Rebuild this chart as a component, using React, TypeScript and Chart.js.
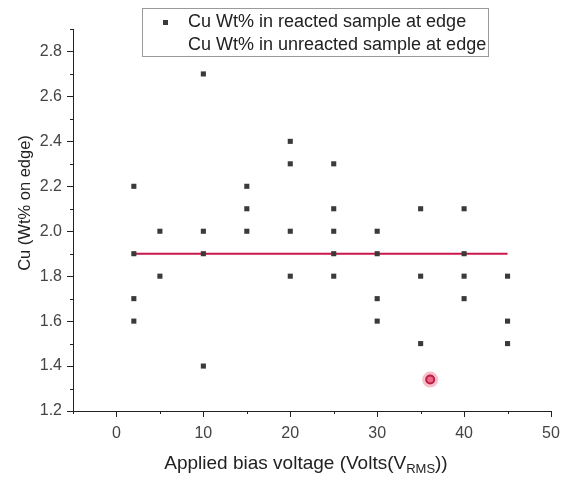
import { useEffect, useRef } from 'react';
import { Chart, registerables } from 'chart.js';

Chart.register(...registerables);

// ---- data ----
const reactedVoltage = [2, 2, 2, 2, 5, 5, 10, 10, 10, 10, 15, 15, 15, 20, 20, 20, 20, 25, 25, 25, 25, 25, 30, 30, 30, 30, 35, 35, 35, 40, 40, 40, 40, 45, 45, 45];
const reactedCu = [2.2, 1.9, 1.7, 1.6, 2.0, 1.8, 2.7, 2.0, 1.9, 1.4, 2.2, 2.1, 2.0, 2.4, 2.3, 2.0, 1.8, 2.3, 2.1, 2.0, 1.9, 1.8, 2.0, 1.9, 1.7, 1.6, 2.1, 1.8, 1.5, 2.1, 1.9, 1.8, 1.7, 1.8, 1.6, 1.5];
const unreactedVoltage = [2, 45];
const unreactedCu = [1.9, 1.9];
const spotVoltage = [36.1];
const spotCu = [1.34];
const seriesLabels = ['Cu Wt% in reacted sample at edge', 'Cu Wt% in unreacted sample at edge'];
const xTitleParts = ['Applied bias voltage (Volts(V', 'RMS', '))'];
const yTitle = 'Cu (Wt% on edge)';
const xMin = -5;
const xMax = 50;
const yMin = 1.2;
const yMax = 2.9;
const xMajorTicks = [0, 10, 20, 30, 40, 50];
const xMinorTicks = [-5, 5, 15, 25, 35, 45];
const yMinorTicks = [1.3, 1.5, 1.7, 1.9, 2.1, 2.3, 2.5, 2.7, 2.9];

const FONT = '"Liberation Sans", Arial, Helvetica, sans-serif';
const AXIS = '#222222';
const MARKER = '#3a3a3a';
const LINE = '#c8174a';

const toPoints = (xs: number[], ys: number[]) => xs.map((x, i) => ({ x, y: ys[i] }));

const decorPlugin = {
  id: 'decor',
  afterDraw(chart: any) {
    const ctx = chart.ctx;
    const xs = chart.scales.x;
    const ys = chart.scales.y;
    const area = chart.chartArea;
    ctx.save();
    // minor ticks
    ctx.strokeStyle = AXIS;
    ctx.lineWidth = 1;
    ctx.beginPath();
    yMinorTicks.forEach((v) => {
      const py = Math.round(ys.getPixelForValue(v)) + 0.5;
      ctx.moveTo(area.left - 3, py);
      ctx.lineTo(area.left, py);
    });
    xMinorTicks.forEach((v) => {
      const px = Math.round(xs.getPixelForValue(v)) + 0.5;
      ctx.moveTo(px, area.bottom);
      ctx.lineTo(px, area.bottom + 3);
    });
    ctx.stroke();

    // y axis title
    ctx.save();
    ctx.translate(25, 203);
    ctx.rotate(-Math.PI / 2);
    ctx.font = `16.5px ${FONT}`;
    ctx.fillStyle = AXIS;
    ctx.textAlign = 'center';
    ctx.textBaseline = 'middle';
    ctx.fillText(yTitle, 0, 0);
    ctx.restore();

    // x axis title with subscript
    const mainFont = `19px ${FONT}`;
    const subFont = `13px ${FONT}`;
    ctx.fillStyle = AXIS;
    ctx.textBaseline = 'alphabetic';
    ctx.textAlign = 'left';
    ctx.font = mainFont;
    const w1 = ctx.measureText(xTitleParts[0]).width;
    const w3 = ctx.measureText(xTitleParts[2]).width;
    ctx.font = subFont;
    const w2 = ctx.measureText(xTitleParts[1]).width;
    const total = w1 + w2 + w3;
    let sx = 306 - total / 2;
    const base = 469;
    ctx.font = mainFont;
    ctx.fillText(xTitleParts[0], sx, base);
    sx += w1;
    ctx.font = subFont;
    ctx.fillText(xTitleParts[1], sx, base + 4);
    sx += w2;
    ctx.font = mainFont;
    ctx.fillText(xTitleParts[2], sx, base);

    // legend box
    const lx = 142.5, ly = 8.5, lw = 346, lh = 48;
    ctx.fillStyle = '#ffffff';
    ctx.fillRect(lx, ly, lw, lh);
    ctx.strokeStyle = '#9a9a9a';
    ctx.strokeRect(lx, ly, lw, lh);
    ctx.fillStyle = MARKER;
    ctx.fillRect(163, 20, 5, 5);
    ctx.font = `18px ${FONT}`;
    ctx.fillStyle = AXIS;
    ctx.textBaseline = 'middle';
    ctx.fillText(chart.data.datasets[0].label, 188, 22);
    ctx.fillText(chart.data.datasets[1].label, 188, 45);
    ctx.restore();
  },
};

export default function App() {
  const canvasRef = useRef<HTMLCanvasElement | null>(null);

  useEffect(() => {
    const canvas = canvasRef.current;
    if (!canvas) return;
    const chart = new Chart(canvas, {
      type: 'scatter',
      data: {
        datasets: [
          {
            label: seriesLabels[0],
            data: toPoints(reactedVoltage, reactedCu),
            pointStyle: 'rect',
            pointRadius: 3.6,
            pointBackgroundColor: MARKER,
            pointBorderWidth: 0,
            showLine: false,
          },
          {
            label: seriesLabels[1],
            data: toPoints(unreactedVoltage, unreactedCu),
            showLine: true,
            borderColor: LINE,
            borderWidth: 2,
            pointRadius: 0,
          },
          {
            label: 'spot-glow',
            data: toPoints(spotVoltage, spotCu),
            pointStyle: 'circle',
            pointRadius: 8,
            pointBackgroundColor: 'rgba(238, 70, 110, 0.35)',
            pointBorderWidth: 0,
          },
          {
            label: 'spot',
            data: toPoints(spotVoltage, spotCu),
            pointStyle: 'circle',
            pointRadius: 4,
            pointBackgroundColor: 'rgba(240, 110, 140, 0.9)',
            pointBorderColor: '#9a0f2e',
            pointBorderWidth: 2,
          },
        ],
      },
      options: {
        animation: false,
        responsive: false,
        devicePixelRatio: 1,
        layout: { padding: { top: 29, right: 10, left: 0, bottom: 0 } },
        plugins: { legend: { display: false }, tooltip: { enabled: false } },
        scales: {
          x: {
            type: 'linear',
            min: xMin,
            max: xMax,
            ticks: {
              stepSize: 5,
              autoSkip: false,
              maxRotation: 0,
              padding: 7,
              color: '#444444',
              font: { family: FONT, size: 16 },
              callback: (v: any) => (xMajorTicks.includes(Number(v)) ? String(v) : ''),
            },
            grid: {
              drawOnChartArea: false,
              tickLength: 6,
              color: (c: any) => (c.tick && xMajorTicks.includes(Number(c.tick.value)) ? AXIS : 'rgba(0,0,0,0)'),
            },
            border: { color: AXIS, width: 1 },
            afterFit: (s: any) => {
              s.height = 66;
              s.paddingLeft = 0;
              s.paddingRight = 0;
            },
          },
          y: {
            type: 'linear',
            min: yMin,
            max: yMax,
            ticks: {
              stepSize: 0.1,
              autoSkip: false,
              padding: 5,
              color: '#444444',
              font: { family: FONT, size: 16 },
              callback: (v: any) => (Math.round(Number(v) * 10) % 2 === 0 ? Number(v).toFixed(1) : ''),
            },
            grid: {
              drawOnChartArea: false,
              tickLength: 6,
              color: (c: any) => (c.tick && Math.round(c.tick.value * 10) % 2 === 0 ? AXIS : 'rgba(0,0,0,0)'),
            },
            border: { color: AXIS, width: 1 },
            afterFit: (s: any) => {
              s.width = 73;
              s.paddingTop = 0;
              s.paddingBottom = 0;
            },
          },
        },
      },
      plugins: [decorPlugin],
    });
    return () => chart.destroy();
  }, []);

  return (
    <div style={{ position: 'fixed', left: 0, top: 0, width: 561, height: 477, background: '#ffffff' }}>
      <canvas ref={canvasRef} width={561} height={477} style={{ display: 'block', width: 561, height: 477 }} />
    </div>
  );
}
